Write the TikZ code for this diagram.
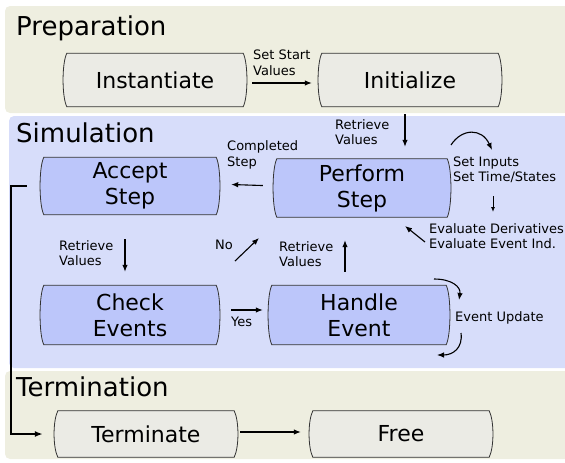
\documentclass[tikz,border=0pt]{standalone}
\usepackage{fontspec}
\setmainfont{DejaVu Sans}
\usetikzlibrary{arrows.meta,calc}
\pgfdeclarelayer{panels}
\pgfdeclarelayer{boxes}
\pgfsetlayers{panels,boxes,main}
\definecolor{panelbeige}{RGB}{238,238,224}
\definecolor{panelblue}{RGB}{215,221,250}
\definecolor{boxblue}{RGB}{188,198,250}
\definecolor{boxbeige}{RGB}{235,235,229}
\tikzset{
  panel/.style={rounded corners=5pt, draw=none},
  title/.style={anchor=west, inner sep=0pt, font=\fontsize{26}{30}\selectfont},
  stepbox/.style={inner sep=0pt, align=center, font=\fontsize{22}{26}\selectfont},
  lbl/.style={anchor=west, inner sep=0pt, align=left, font=\fontsize{13}{15.5}\selectfont},
  arr/.style={-{Latex[length=7pt,width=5.5pt]}, line width=1.1pt},
  boxline/.style={draw=black!80, line width=0.8pt},
}
\begin{document}
\begin{tikzpicture}[x=1pt,y=-1pt]
\useasboundingbox (0,0) rectangle (565,463);
\begin{pgfonlayer}{panels}
  \fill[panel, panelbeige] (5,6) rectangle (575,113);
  \fill[panel, panelblue] (9,116) rectangle (575,368);
  \fill[panel, panelbeige] (5,371) rectangle (575,459);
\end{pgfonlayer}
\node[title] (tprep) at (16,28) {Preparation};
\node[title] (tsim) at (16,133) {Simulation};
\node[title] (tterm) at (16,387) {Termination};
% boxes
\node[stepbox, minimum width=176pt, minimum height=53pt] (inst) at (155,80) {Instantiate};
\node[stepbox, minimum width=176pt, minimum height=53pt] (init) at (410,80) {Initialize};
\node[stepbox, minimum width=172pt, minimum height=57pt] (accept) at (130,186) {Accept\\Step};
\node[stepbox, minimum width=170pt, minimum height=58pt] (perform) at (362,188) {Perform\\Step};
\node[stepbox, minimum width=172pt, minimum height=59pt] (check) at (130,315) {Check\\Events};
\node[stepbox, minimum width=174pt, minimum height=59pt] (handle) at (359,315) {Handle\\Event};
\node[stepbox, minimum width=176pt, minimum height=46pt] (term) at (146,434) {Terminate};
\node[stepbox, minimum width=176pt, minimum height=46pt] (free) at (401,434) {Free};
\begin{pgfonlayer}{boxes}
\foreach \n/\c in {inst/boxbeige,init/boxbeige,accept/boxblue,perform/boxblue,check/boxblue,handle/boxblue,term/boxbeige,free/boxbeige}{
  \draw[boxline, fill=\c] (\n.north west) -- (\n.north east)
    .. controls ($(\n.north east)+(5,10)$) and ($(\n.south east)+(5,-10)$) .. (\n.south east)
    -- (\n.south west)
    .. controls ($(\n.south west)+(-5,-10)$) and ($(\n.north west)+(-5,10)$) .. cycle;
}
\end{pgfonlayer}
% preparation
\draw[arr, shorten <=9pt, shorten >=10pt] ([yshift=-3pt]inst.east) -- ([yshift=-3pt]init.west);
\node[lbl] (lss) at (253,63) {Set Start\\Values};
\draw[arr, shorten <=7.5pt, shorten >=12pt] ([xshift=-5pt]init.south) -- ([xshift=43pt]perform.north);
\node[lbl] (lrv1) at (335,132) {Retrieve\\Values};
% simulation
\draw[arr, shorten <=14pt, shorten >=15pt] ([yshift=2pt]perform.west) -- ([yshift=2pt]accept.east);
\node[lbl] (lcs) at (227,155) {Completed\\Step};
\draw[arr, shorten <=24.5pt, shorten >=13.5pt] ([xshift=-5pt]accept.south) -- ([xshift=-5pt]check.north);
\node[lbl] (lrv2) at (59,253) {Retrieve\\Values};
\draw[arr, shorten <=15pt, shorten >=9pt] ([yshift=5pt]check.east) -- ([yshift=5pt]handle.west);
\node[lbl] (lyes) at (231,322) {Yes};
\coordinate (no1) at (235,261);
\coordinate (no2) at (259,238);
\draw[arr] (no1) -- (no2);
\node[lbl] (lno) at (215,245) {No};
\draw[arr, shorten <=13.5pt, shorten >=23pt] ([xshift=-14pt]handle.north) -- ([xshift=-17pt]perform.south);
\node[lbl] (lrv3) at (279,254) {Retrieve\\Values};
\coordinate (si1) at (451,145);
\coordinate (si2) at (492,150);
\draw[arr] (si1) .. controls (462,128) and (482,128) .. (si2);
\node[lbl] (lsi) at (453,170) {Set Inputs\\Set Time/States};
\coordinate (sd1) at (493,196);
\coordinate (sd2) at (493,212);
\draw[-{Latex[length=5pt,width=4pt]}, line width=0.9pt] (sd1) -- (sd2);
\node[lbl] (lev) at (429,236) {Evaluate Derivatives\\Evaluate Event Ind.};
\coordinate (ev1) at (425,242);
\coordinate (ev2) at (405,226);
\draw[arr] (ev1) -- (ev2);
\coordinate (eu1) at (434,279);
\coordinate (eu2) at (459,300);
\draw[arr] (eu1) .. controls (452,279) and (461,287) .. (eu2);
\coordinate (eu3) at (461,333);
\coordinate (eu4) at (437,355);
\draw[arr] (eu3) .. controls (463,348) and (453,355) .. (eu4);
\node[lbl] (leu) at (455,318) {Event Update};
% to termination
\draw[-{Latex[length=8pt,width=6pt]}, line width=1.8pt, shorten <=17pt, shorten >=15pt] (accept.west) -- ++(-33,0) |- (term.west);
\draw[arr, shorten <=6pt, shorten >=12pt] ([yshift=2pt]term.east) -- ([yshift=2pt]free.west);
\end{tikzpicture}
\end{document}
